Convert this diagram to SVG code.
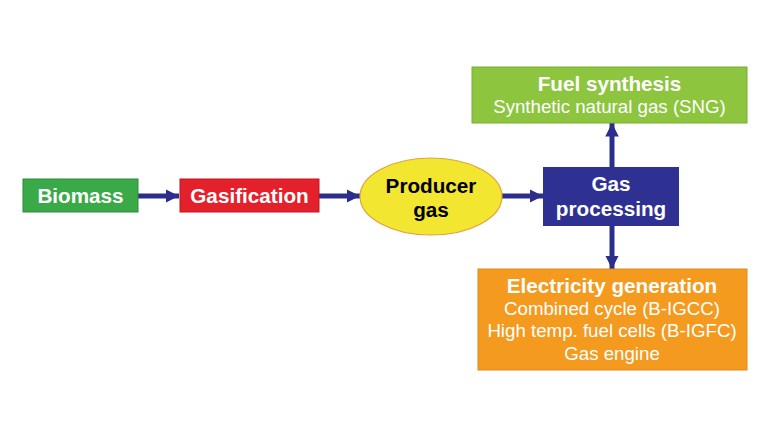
<svg xmlns="http://www.w3.org/2000/svg" width="783" height="440" viewBox="0 0 783 440">
<style>
.t{font-family:"Liberation Sans",Arial,sans-serif;text-anchor:middle}
.b{font-weight:bold;font-size:20.7px;fill:#fff}
.n{font-size:18.7px;fill:#fff}
.k{fill:#000}
.c{stroke:#2b2e8c;stroke-width:5;fill:none}
</style>
<defs>
<marker id="ah" viewBox="0 0 10 10" refX="10" refY="5" markerWidth="2.7" markerHeight="2.8" markerUnits="strokeWidth" orient="auto">
<path d="M0,0 L10,5 L0,10 z" fill="#2b2e8c"/>
</marker>
</defs>
<rect width="783" height="440" fill="#fff"/>
<g id="connectors">
<line class="c" x1="138" y1="196" x2="179" y2="196" marker-end="url(#ah)"/>
<line class="c" x1="319" y1="196" x2="360" y2="196" marker-end="url(#ah)"/>
<line class="c" x1="502" y1="196" x2="543" y2="196" marker-end="url(#ah)"/>
<line class="c" x1="612" y1="167" x2="612" y2="123" marker-end="url(#ah)"/>
<line class="c" x1="612" y1="226" x2="612" y2="269" marker-end="url(#ah)"/>
</g>
<g id="biomass">
<rect x="23" y="179" width="115" height="33" fill="#3aaa48" stroke="#2e8a3a" stroke-width="1"/>
<text class="t b" x="80.5" y="203">Biomass</text>
</g>
<g id="gasification">
<rect x="180" y="179" width="139" height="33" fill="#e4202a" stroke="#c01820" stroke-width="1"/>
<text class="t b" x="249.5" y="203">Gasification</text>
</g>
<g id="producer-gas">
<ellipse cx="431" cy="196.5" rx="71" ry="38.5" fill="#f2e631" stroke="#e0a33a" stroke-width="1.2"/>
<text class="t b k" x="431" y="193">Producer</text>
<text class="t b k" x="431" y="217">gas</text>
</g>
<g id="gas-processing">
<rect x="543" y="167" width="136" height="59" fill="#2e3192"/>
<text class="t b" x="611" y="191">Gas</text>
<text class="t b" x="611" y="216">processing</text>
</g>
<g id="fuel-synthesis">
<rect x="472" y="67" width="275" height="56" fill="#8dc53f" stroke="#79ad35" stroke-width="1"/>
<text class="t b" x="609.5" y="91">Fuel synthesis</text>
<text class="t n" x="609.5" y="113">Synthetic natural gas (SNG)</text>
</g>
<g id="electricity-generation">
<rect x="478" y="269" width="269" height="101" fill="#f39a1f" stroke="#e08a18" stroke-width="1"/>
<text class="t b" x="612" y="293">Electricity generation</text>
<text class="t n" x="612" y="315">Combined cycle (B-IGCC)</text>
<text class="t n" x="612" y="337">High temp. fuel cells (B-IGFC)</text>
<text class="t n" x="612" y="360">Gas engine</text>
</g>
</svg>
